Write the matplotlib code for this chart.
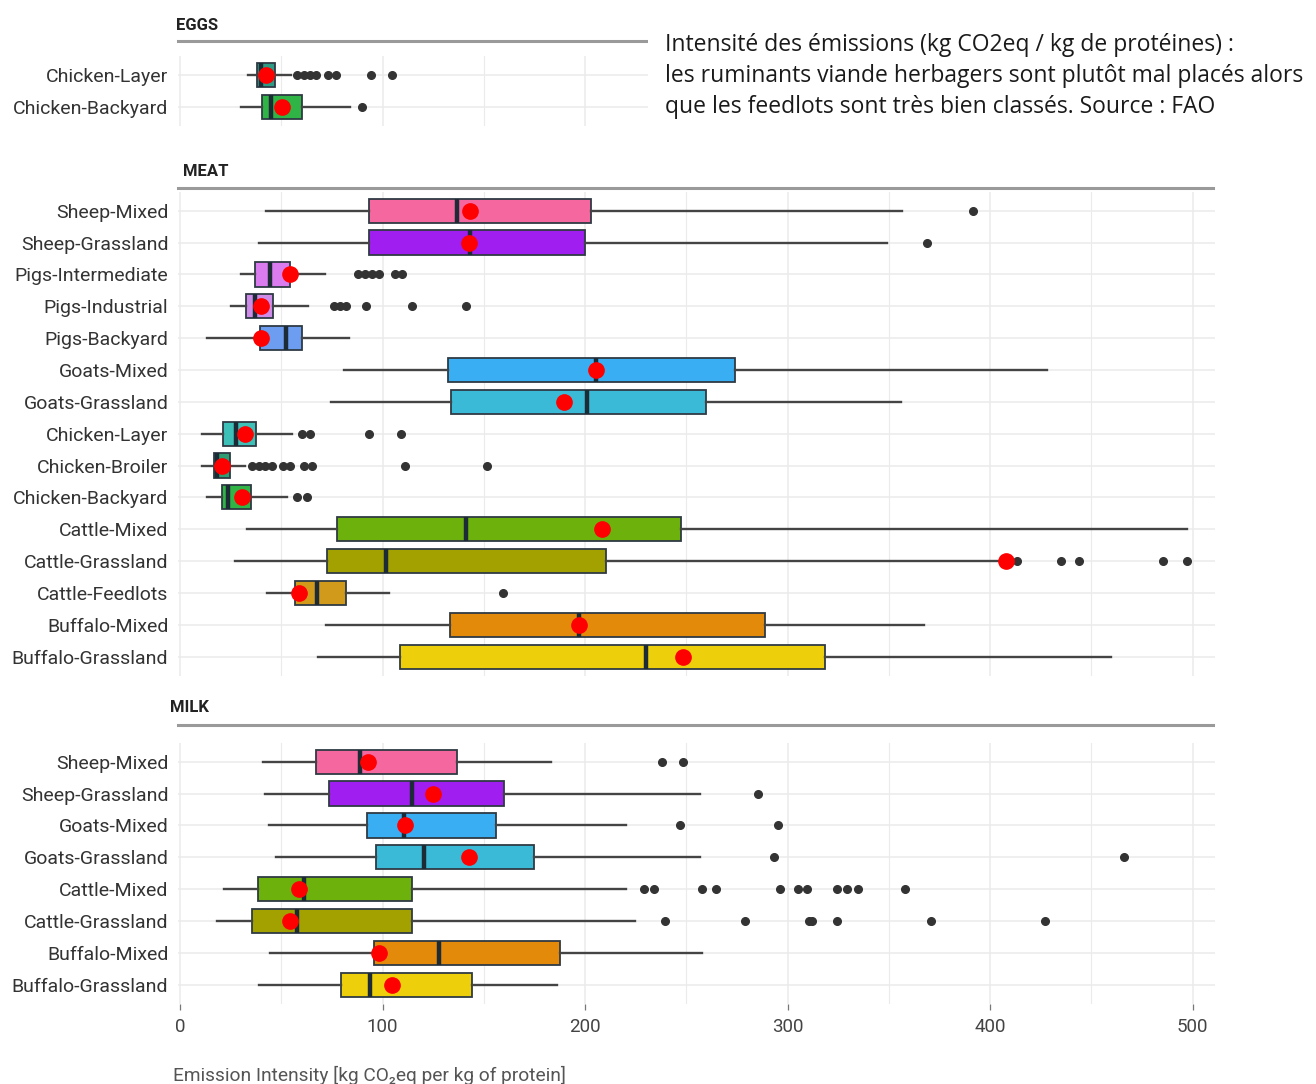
import matplotlib
matplotlib.use("Agg")
import matplotlib.pyplot as plt
from matplotlib.patches import Rectangle
from matplotlib.lines import Line2D

# ---------------- DATA ----------------
eggs_labels = ["Chicken-Layer", "Chicken-Backyard"]
eggs_colors = ["#2E9C84", "#30B446"]
eggs_lo = [33.6, 29.9]
eggs_q1 = [37.8, 40.6]
eggs_med = [39.8, 44.7]
eggs_q3 = [46.7, 60.3]
eggs_hi = [55.0, 83.9]
eggs_mean = [42.6, 50.5]
eggs_out = [[58, 61, 64, 67, 73, 77, 94.3, 104.6], [89.7]]

meat_labels = ["Sheep-Mixed", "Sheep-Grassland", "Pigs-Intermediate", "Pigs-Industrial",
               "Pigs-Backyard", "Goats-Mixed", "Goats-Grassland", "Chicken-Layer",
               "Chicken-Broiler", "Chicken-Backyard", "Cattle-Mixed", "Cattle-Grassland",
               "Cattle-Feedlots", "Buffalo-Mixed", "Buffalo-Grassland"]
meat_colors = ["#F4679F", "#A11EF0", "#DA7CF0", "#CF8BE8", "#6C9DF0", "#3AAEF2", "#3BBAD8",
               "#3CC0B8", "#2E9E72", "#30B446", "#6DB10C", "#A2A100", "#D29A1A", "#E38A0A",
               "#EDCF0C"]
meat_lo = [42.3, 39.2, 30.2, 25.2, 13.2, 81.2, 74.5, 11.0, 11.0, 13.4, 33.3, 27.3, 42.7, 72.0, 68.3]
meat_q1 = [93.4, 93.4, 37.1, 32.7, 39.4, 132.1, 133.7, 21.3, 17.0, 20.5, 77.6, 72.4, 56.8, 133.3, 108.8]
meat_med = [136.8, 143.1, 44.4, 36.9, 52.1, 205.5, 201.0, 27.7, 18.4, 23.8, 141.4, 101.5, 67.7, 197.2, 230.2]
meat_q3 = [203.0, 200.0, 54.4, 46.0, 60.3, 273.8, 259.5, 37.3, 24.9, 34.8, 247.4, 210.4, 81.8, 289.0, 318.6]
meat_hi = [356.5, 349.0, 71.8, 63.1, 83.5, 428.0, 355.8, 55.4, 32.3, 52.9, 497.0, 408.0, 103.2, 367.5, 459.7]
meat_mean = [143.0, 142.5, 54.4, 40.2, 39.8, 205.5, 189.4, 32.3, 20.8, 30.7, 208.4, 408.0, 58.5, 197.2, 248.5]
meat_out = [[391.4], [368.6], [88, 91.5, 95, 98, 106, 109.5],
            [76, 79, 82, 91.8, 114.6, 141.4], [], [], [],
            [60, 64.4, 93.4, 109.2],
            [35.6, 38.9, 42.2, 45.2, 50.8, 54.1, 61.1, 65.3, 111.3, 151.8],
            [57.9, 62.8], [], [413, 434.8, 444, 485.5, 497], [159.7], [], []]

milk_labels = ["Sheep-Mixed", "Sheep-Grassland", "Goats-Mixed", "Goats-Grassland",
               "Cattle-Mixed", "Cattle-Grassland", "Buffalo-Mixed", "Buffalo-Grassland"]
milk_colors = ["#F4679F", "#A11EF0", "#3AAEF2", "#3BBAD8", "#6DB10C", "#A2A100", "#E38A0A", "#EDCF0C"]
milk_lo = [41.2, 41.9, 44.0, 47.5, 21.5, 18.4, 44.4, 39.2]
milk_q1 = [67.2, 73.5, 92.2, 97.0, 38.6, 35.4, 95.9, 79.7]
milk_med = [89.1, 114.4, 110.5, 120.6, 61.4, 57.9, 128.1, 93.6]
milk_q3 = [136.8, 160.1, 156.0, 174.7, 114.6, 114.4, 187.8, 144.1]
milk_hi = [183.0, 256.5, 220.0, 256.5, 220.4, 224.6, 257.8, 186.1]
milk_mean = [92.6, 124.8, 110.9, 142.5, 58.9, 54.4, 98.4, 104.6]
milk_out = [[238, 248.2], [285.3], [247, 295], [293.4, 466.2],
            [229.1, 234.2, 257.6, 264.6, 296.4, 304.9, 309.4, 324.5, 329.1, 334.5, 357.7],
            [239.3, 278.9, 310.5, 312.0, 324.5, 370.9, 426.9], [], []]

x_major = [0, 100, 200, 300, 400, 500]
x_minor = [50, 150, 250, 350, 450]
x_label = "Emission Intensity [kg CO₂eq per kg of protein]"
note_lines = ["Intensité des émissions (kg CO2eq / kg de protéines) :",
              "les ruminants viande herbagers sont plutôt mal placés alors",
              "que les feedlots sont très bien classés. Source : FAO"]

# ---------------- LAYOUT ----------------
W, H = 1316, 1084
L, R = 178, 1215
ROW = 31.85
FONT = ["Roboto", "DejaVu Sans"]
GRID = "#EBEBEB"

fig = plt.figure(figsize=(W / 100, H / 100), dpi=100)
fig.patch.set_facecolor("white")


def panel(top_px, labels, colors, lo, q1, med, q3, hi, mean, outs, show_x):
    n = len(labels)
    h_px = (n + 0.2) * ROW
    ax = fig.add_axes([L / W, 1 - (top_px + h_px) / H, (R - L) / W, h_px / H])
    stats = []
    for i in range(n):
        stats.append(dict(label=labels[i], whislo=lo[i], q1=q1[i], med=med[i],
                          q3=q3[i], whishi=hi[i], mean=mean[i], fliers=outs[i]))
    bp = ax.bxp(stats, positions=list(range(n)), widths=0.76, orientation="horizontal",
                patch_artist=True, showcaps=False, showmeans=True, showfliers=True,
                boxprops=dict(edgecolor="#2f3a44", linewidth=1.3),
                whiskerprops=dict(color="#444444", linewidth=1.7),
                medianprops=dict(color="#1c2b36", linewidth=3.2),
                meanprops=dict(marker="o", markerfacecolor="#FF0000",
                               markeredgecolor="#FF0000", markersize=11),
                flierprops=dict(marker="o", markerfacecolor="#333333",
                                markeredgecolor="#333333", markersize=5.5))
    for patch, c in zip(bp["boxes"], colors):
        patch.set_facecolor(c)
    for m in bp["means"]:
        m.set_zorder(5)
    ax.set_xlim(-1, 511)
    ax.set_ylim(n - 0.4, -0.6)
    ax.set_yticks(list(range(n)))
    ax.set_yticklabels(labels, fontfamily=FONT, fontsize=14, color="#333333")
    ax.set_xticks(x_major)
    ax.set_xticks(x_minor, minor=True)
    ax.grid(True, which="major", axis="both", color=GRID, linewidth=1.1, zorder=0)
    ax.grid(True, which="minor", axis="x", color=GRID, linewidth=0.8, zorder=0)
    ax.set_axisbelow(True)
    for s in ax.spines.values():
        s.set_visible(False)
    ax.tick_params(axis="y", length=0, pad=7)
    ax.tick_params(axis="x", which="minor", length=0)
    if show_x:
        ax.tick_params(axis="x", which="major", length=4, width=0.9, color="#777777", pad=6)
        ax.set_xticklabels([str(v) for v in x_major], fontfamily=FONT, fontsize=13.5,
                           color="#444444")
    else:
        ax.tick_params(axis="x", which="major", length=0, labelbottom=False)
    return ax


panel(55.9, eggs_labels, eggs_colors, eggs_lo, eggs_q1, eggs_med, eggs_q3, eggs_hi,
      eggs_mean, eggs_out, False)
panel(191.6, meat_labels, meat_colors, meat_lo, meat_q1, meat_med, meat_q3, meat_hi,
      meat_mean, meat_out, False)
panel(742.6, milk_labels, milk_colors, milk_lo, milk_q1, milk_med, milk_q3, milk_hi,
      milk_mean, milk_out, True)

# strip titles and lines
for txt, xt, yt, yl in [("EGGS", 176, 25, 40.7), ("MEAT", 183, 171.7, 187.7),
                        ("MILK", 170, 708, 725)]:
    fig.text(xt / W, 1 - yt / H, txt, fontfamily=FONT, fontweight="bold", fontsize=12,
             color="#222222", ha="left", va="center")
    fig.add_artist(Line2D([L / W, 1213 / W], [1 - yl / H, 1 - yl / H], color="#9a9a9a",
                          linewidth=2.2, transform=fig.transFigure))

# white overlay with the French note
fig.add_artist(Rectangle((648 / W, 1 - 145 / H), 1 - 648 / W, 145 / H, facecolor="white",
                         edgecolor="none", transform=fig.transFigure, zorder=10))
for i, line in enumerate(note_lines):
    fig.text(665 / W, 1 - (45 + 31 * i) / H, line, fontfamily=["Open Sans", "DejaVu Sans"],
             fontsize=16.5, color="#1a1a1a", ha="left", va="center", zorder=11)

fig.text(173 / W, 1 - 1075 / H, x_label, fontfamily=FONT, fontsize=13.8, color="#555555",
         ha="left", va="center")

fig.savefig("out.png", dpi=100)
